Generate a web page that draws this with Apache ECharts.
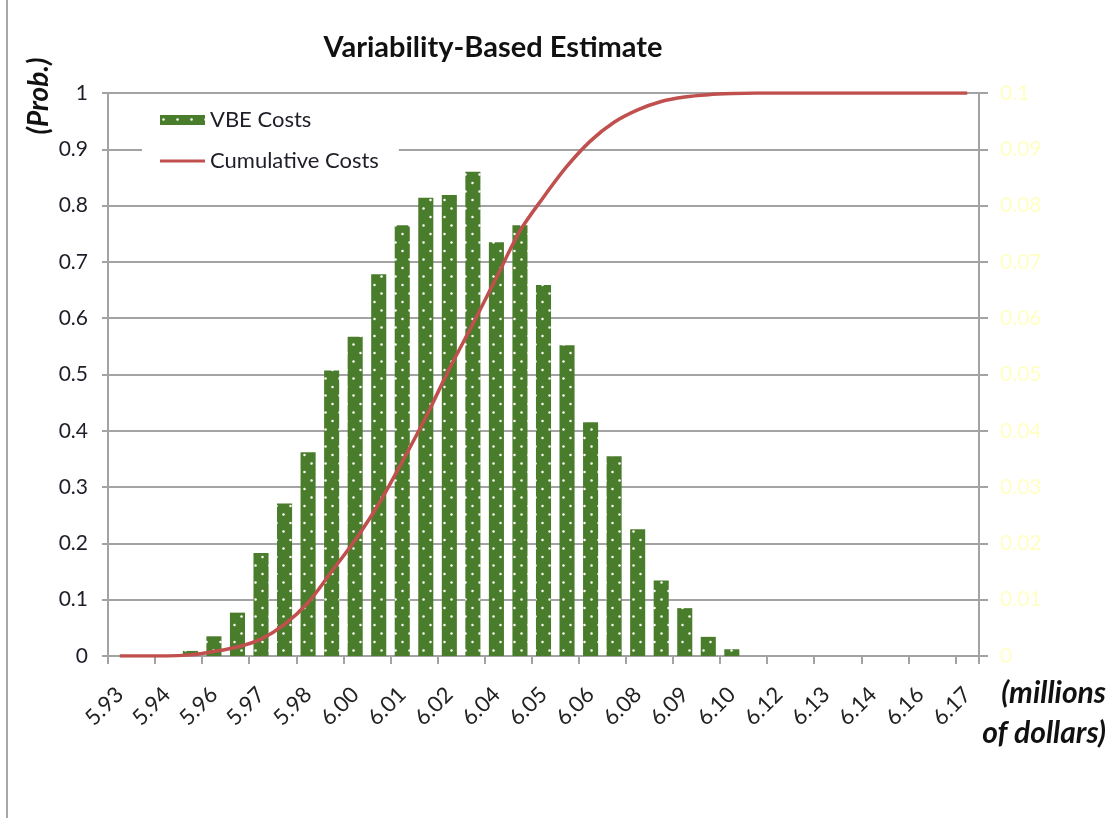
<!DOCTYPE html>
<html>
<head>
<meta charset="utf-8">
<title>Variability-Based Estimate</title>
<script src="https://cdn.jsdelivr.net/npm/echarts@6/dist/echarts.min.js"></script>
<style>
  html, body { margin: 0; padding: 0; background: #ffffff; }
  #chart { width: 1117px; height: 818px; }
</style>
</head>
<body>
<div id="chart"></div>
<script>
// Cost bins (millions of dollars), one per bar
const costs = [5.9310, 5.9377, 5.9443, 5.9510, 5.9577, 5.9643, 5.9710, 5.9777, 5.9843, 5.9910,
               5.9977, 6.0043, 6.0110, 6.0177, 6.0243, 6.0310, 6.0377, 6.0443, 6.0510, 6.0577,
               6.0643, 6.0710, 6.0777, 6.0843, 6.0910, 6.0977, 6.1043, 6.1110, 6.1177, 6.1243,
               6.1310, 6.1377, 6.1443, 6.1510, 6.1577, 6.1643, 6.1710];

// Probability of each cost bin (right axis)
const vbeCosts = [0, 0, 0, 0.0009, 0.0035, 0.0077, 0.0183, 0.0271, 0.0362, 0.0507,
                  0.0567, 0.0678, 0.0765, 0.0814, 0.0819, 0.0860, 0.0735, 0.0765, 0.0659, 0.0552,
                  0.0415, 0.0355, 0.0225, 0.0134, 0.0085, 0.0034, 0.0012, 0, 0, 0,
                  0, 0, 0, 0, 0, 0, 0];

// Cumulative probability (left axis)
const cumulativeCosts = [0, 0, 0, 0.002, 0.008, 0.016, 0.030, 0.056, 0.095, 0.150,
                         0.206, 0.270, 0.345, 0.424, 0.510, 0.590, 0.672, 0.755, 0.815, 0.870,
                         0.915, 0.948, 0.970, 0.985, 0.993, 0.997, 0.999, 1, 1, 1,
                         1, 1, 1, 1, 1, 1, 1];

const FONT = 'Lato, "Open Sans", sans-serif';
const GRID_GRAY = '#a3a3a3';
const TEXT_DARK = '#1e1e28';

// Dotted green fill for the histogram bars
function dottedPattern() {
  const c = document.createElement('canvas');
  c.width = 14; c.height = 17;
  const g = c.getContext('2d');
  g.fillStyle = '#4a7d2b';
  g.fillRect(0, 0, 14, 17);
  g.fillStyle = '#ffffff';
  g.beginPath(); g.arc(3.5, 4.5, 1.25, 0, Math.PI * 2); g.fill();
  g.beginPath(); g.arc(10.5, 13, 1.25, 0, Math.PI * 2); g.fill();
  return c;
}

const chart = echarts.init(document.getElementById('chart'), null, { renderer: 'canvas' });

chart.setOption({
  animation: false,
  backgroundColor: '#ffffff',
  grid: { left: 108, right: 138, top: 93, bottom: 162, containLabel: false },
  legend: {
    orient: 'vertical',
    left: 142,
    top: 100,
    padding: [9, 20, 9, 18],
    backgroundColor: '#ffffff',
    itemWidth: 45,
    itemHeight: 10,
    itemGap: 19,
    textStyle: { fontFamily: FONT, fontSize: 22, color: TEXT_DARK, lineHeight: 22 },
    data: [
      { name: 'VBE Costs', icon: 'rect' },
      // thin horizontal stroke as the line-series key
      { name: 'Cumulative Costs', icon: 'path://M0,0 M0,10 M0,3.4 L45,3.4 L45,6.6 L0,6.6 Z' }
    ]
  },
  xAxis: {
    type: 'category',
    data: costs,
    boundaryGap: true,
    axisLine: { show: true, lineStyle: { color: GRID_GRAY, width: 2 } },
    axisTick: { show: true, interval: 1, length: 8, lineStyle: { color: GRID_GRAY, width: 2 } },
    axisLabel: {
      interval: 1,
      rotate: 45,
      margin: 35,
      fontFamily: FONT,
      fontSize: 22,
      color: '#222222',
      formatter: v => Number(v).toFixed(2)
    },
    splitLine: { show: false }
  },
  yAxis: [
    {
      type: 'value',
      min: 0, max: 1, interval: 0.1,
      position: 'left',
      axisLine: { show: true, lineStyle: { color: GRID_GRAY, width: 2 } },
      axisTick: { show: true, length: 6, lineStyle: { color: GRID_GRAY, width: 2 } },
      axisLabel: { margin: 20, fontFamily: FONT, fontSize: 21, color: TEXT_DARK },
      splitLine: { show: true, lineStyle: { color: GRID_GRAY, width: 2 } }
    },
    {
      type: 'value',
      min: 0, max: 0.1, interval: 0.01,
      position: 'right',
      axisLine: { show: true, lineStyle: { color: GRID_GRAY, width: 2 } },
      axisTick: { show: true, length: 9, lineStyle: { color: GRID_GRAY, width: 2 } },
      axisLabel: { margin: 21, fontFamily: FONT, fontSize: 21, color: '#ffffc4' },
      splitLine: { show: false }
    }
  ],
  series: [
    {
      name: 'VBE Costs',
      type: 'bar',
      yAxisIndex: 1,
      data: vbeCosts,
      barCategoryGap: '36%',
      itemStyle: { color: { image: dottedPattern(), repeat: 'repeat' } }
    },
    {
      name: 'Cumulative Costs',
      type: 'line',
      yAxisIndex: 0,
      data: cumulativeCosts,
      smooth: 0.3,
      symbol: 'none',
      lineStyle: { color: '#c0504d', width: 3.5 },
      itemStyle: { color: '#c0504d' }
    }
  ],
  graphic: [
    {
      type: 'line',
      shape: { x1: 7, y1: 0, x2: 7, y2: 818 },
      style: { stroke: '#a8a8a8', lineWidth: 2 }
    },
    {
      type: 'text',
      style: {
        text: 'Variability-Based Estimate',
        x: 493, y: 48,
        align: 'center', verticalAlign: 'middle',
        font: 'bold 29px ' + FONT,
        fill: '#111111'
      }
    },
    {
      type: 'text',
      x: 39, y: 96,
      rotation: Math.PI / 2,
      style: {
        text: '(Prob.)',
        x: 0, y: 0,
        align: 'center', verticalAlign: 'middle',
        font: 'italic bold 28px ' + FONT,
        fill: '#111111'
      }
    },
    {
      type: 'text',
      style: {
        text: '(millions\nof dollars)',
        x: 1106, y: 713,
        align: 'right', verticalAlign: 'middle',
        lineHeight: 40,
        font: 'italic bold 30px ' + FONT,
        fill: '#111111'
      }
    }
  ]
});
</script>
</body>
</html>
